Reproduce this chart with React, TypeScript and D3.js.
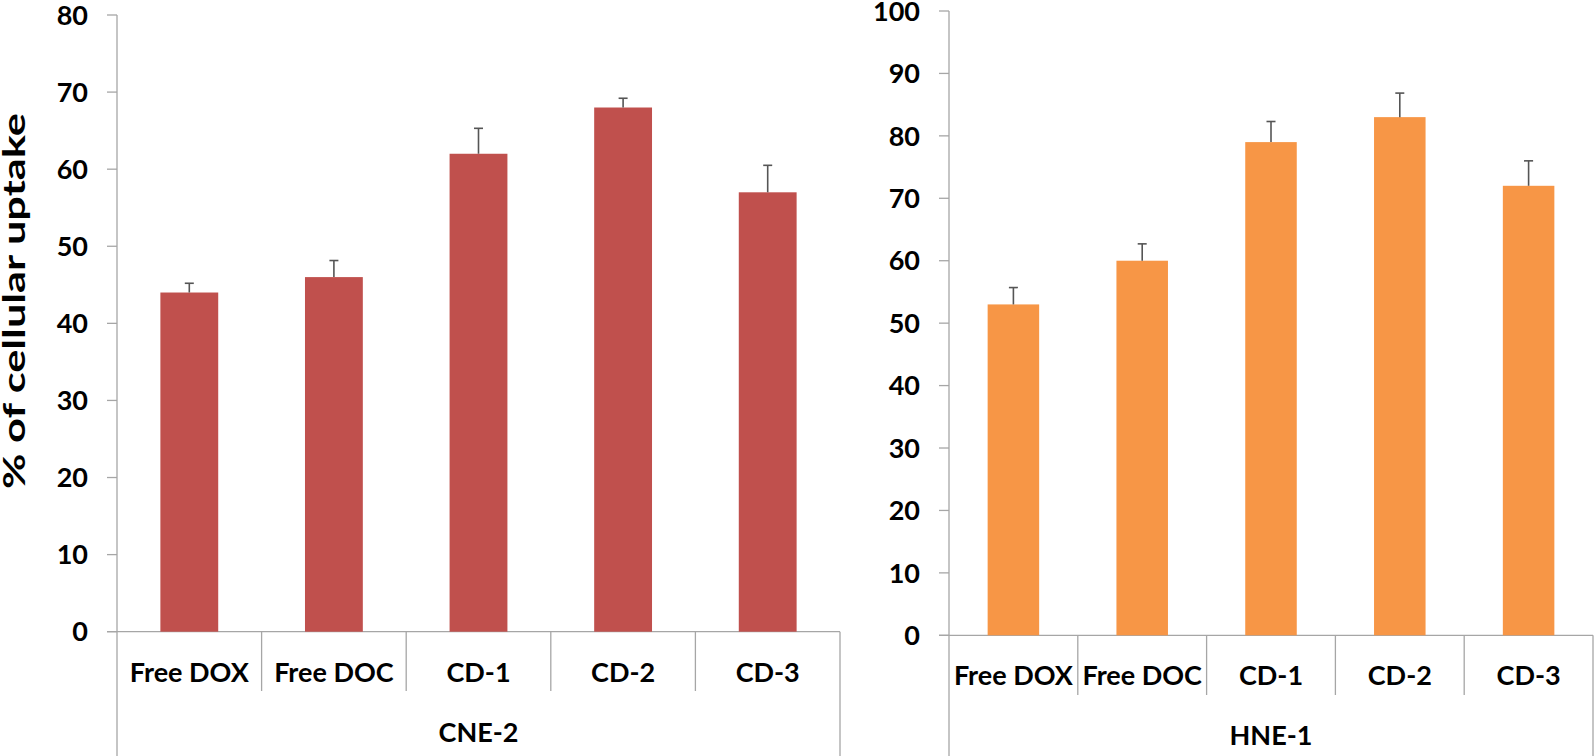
import React from "react";
import * as d3 from "d3";

const categories = ["Free DOX", "Free DOC", "CD-1", "CD-2", "CD-3"];
const cne2Values = [44, 46, 62, 68, 57];
const cne2Errors = [1.2, 2.15, 3.3, 1.2, 3.5];
const hne1Values = [53, 60, 79, 83, 72];
const hne1Errors = [2.7, 2.7, 3.3, 3.85, 4.0];
const cne2Ticks = [0, 10, 20, 30, 40, 50, 60, 70, 80];
const hne1Ticks = [0, 10, 20, 30, 40, 50, 60, 70, 80, 90, 100];

const FONT = "Lato, 'DejaVu Sans', sans-serif";
const AXIS = "#a6a6a6";
const ERR = "#555555";

type PanelProps = {
  x0: number;
  x1: number;
  yTop: number;
  yZero: number;
  yMax: number;
  values: number[];
  errors: number[];
  ticks: number[];
  color: string;
  group: string;
  catBaseline: number;
  groupBaseline: number;
  sepBottom: number;
};

function Panel(p: PanelProps) {
  const x = d3.scaleBand<string>().domain(categories).range([p.x0, p.x1]).paddingInner(0.6).paddingOuter(0.3);
  const y = d3.scaleLinear().domain([0, p.yMax]).range([p.yZero, p.yTop]);
  const step = x.step();
  const edges = categories.map((c) => (x(c) as number) - step * 0.3);
  edges.push(p.x1);
  return (
    <g>
      <line x1={p.x0} x2={p.x0} y1={y(p.yMax)} y2={756} stroke={AXIS} strokeWidth={1.3} />
      <line x1={p.x1} x2={p.x1} y1={p.yZero} y2={756} stroke={AXIS} strokeWidth={1.3} />
      {p.ticks.map((t) => (
        <g key={t}>
          <line x1={p.x0 - 10} x2={p.x0} y1={y(t)} y2={y(t)} stroke={AXIS} strokeWidth={1.3} />
          <text x={p.x0 - 29} y={y(t)} dy="0.36em" textAnchor="end" fontFamily={FONT} fontWeight={700} fontSize={27} fill="#000">
            {t}
          </text>
        </g>
      ))}
      <line x1={p.x0 - 10} x2={p.x1} y1={p.yZero} y2={p.yZero} stroke={AXIS} strokeWidth={1.3} />
      {edges.slice(1, -1).map((e, i) => (
        <line key={i} x1={e} x2={e} y1={p.yZero} y2={p.sepBottom} stroke={AXIS} strokeWidth={1.3} />
      ))}
      {categories.map((c, i) => {
        const bx = x(c) as number;
        const bw = x.bandwidth();
        const cx = bx + bw / 2;
        const top = y(p.values[i]);
        const et = y(p.values[i] + p.errors[i]);
        return (
          <g key={c}>
            <rect x={bx} y={top} width={bw} height={p.yZero - top} fill={p.color} />
            <line x1={cx} x2={cx} y1={top} y2={et} stroke={ERR} strokeWidth={1.6} />
            <line x1={cx - 4.5} x2={cx + 4.5} y1={et} y2={et} stroke={ERR} strokeWidth={1.6} />
            <text x={cx} y={p.catBaseline} textAnchor="middle" fontFamily={FONT} fontWeight={700} fontSize={27} fill="#000">
              {c}
            </text>
          </g>
        );
      })}
      <text x={(p.x0 + p.x1) / 2} y={p.groupBaseline} textAnchor="middle" fontFamily={FONT} fontWeight={700} fontSize={27} fill="#000">
        {p.group}
      </text>
    </g>
  );
}

export default function App() {
  return (
    <svg width={1594} height={756} style={{ position: "absolute", left: 0, top: 0, background: "#fff" }}>
      <rect x={0} y={0} width={1594} height={756} fill="#fff" />
      <Panel
        x0={117}
        x1={840}
        yTop={15}
        yZero={631.7}
        yMax={80}
        values={cne2Values}
        errors={cne2Errors}
        ticks={cne2Ticks}
        color="#C0504D"
        group="CNE-2"
        catBaseline={681.5}
        groupBaseline={741.5}
        sepBottom={691}
      />
      <Panel
        x0={949}
        x1={1593}
        yTop={11}
        yZero={635.3}
        yMax={100}
        values={hne1Values}
        errors={hne1Errors}
        ticks={hne1Ticks}
        color="#F79646"
        group="HNE-1"
        catBaseline={685}
        groupBaseline={745}
        sepBottom={695}
      />
      <text
        transform="translate(24.5,301) rotate(-90)"
        textAnchor="middle"
        fontFamily={FONT}
        fontWeight={700}
        fontSize={30}
        textLength={376}
        lengthAdjust="spacingAndGlyphs"
        fill="#000"
      >
        % of cellular uptake
      </text>
    </svg>
  );
}
